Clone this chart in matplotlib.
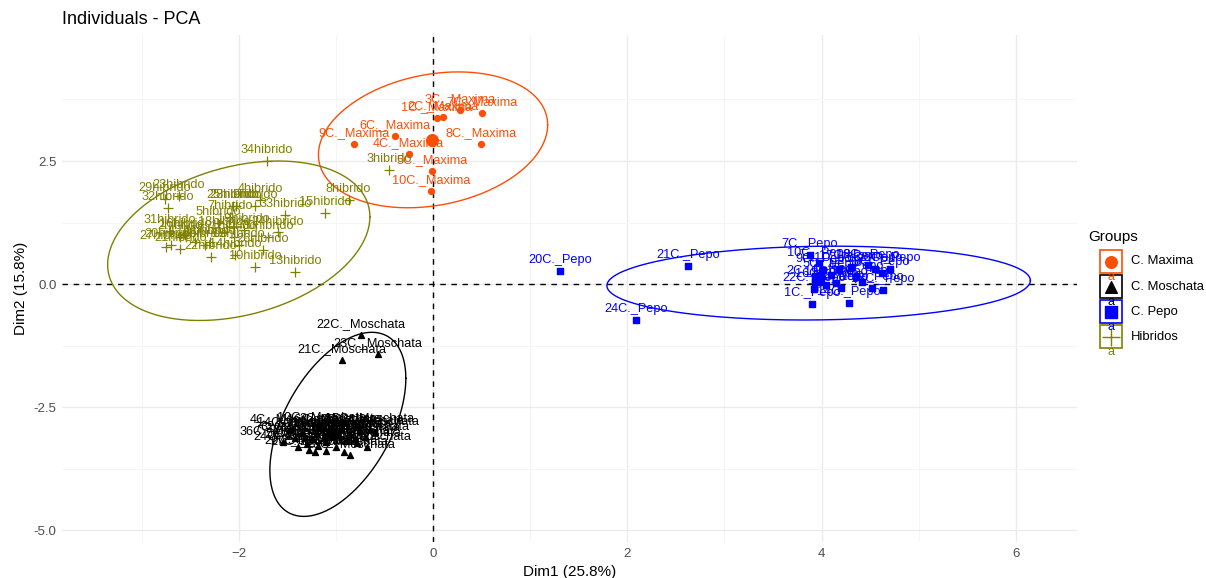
import matplotlib.pyplot as plt
import numpy as np

plt.rcParams['font.family'] = ['Liberation Sans', 'DejaVu Sans']

# ---- data (Dim1, Dim2 coordinates) ----
maxima_names = ["1C._Maxima", "2C._Maxima", "3C._Maxima", "4C._Maxima", "5C._Maxima",
                "6C._Maxima", "7C._Maxima", "8C._Maxima", "9C._Maxima", "10C._Maxima"]
maxima_x = [0.04, 0.10, 0.28, -0.25, -0.01, -0.39, 0.50, 0.49, -0.81, -0.02]
maxima_y = [3.37, 3.39, 3.54, 2.64, 2.30, 3.01, 3.48, 2.85, 2.85, 1.89]

pepo_names = [f"{i}C._Pepo" for i in range(1, 25)]
pepo_x = [3.90, 3.93, 4.20, 4.35, 4.10, 4.55, 3.88, 4.62, 4.02, 3.97, 4.18, 4.42,
          4.63, 4.28, 4.52, 4.05, 4.30, 4.48, 4.15, 1.31, 2.63, 3.92, 4.70, 2.09]
pepo_y = [-0.41, 0.05, -0.08, 0.15, 0.18, 0.30, 0.59, 0.22, 0.28, 0.42, 0.30, 0.05,
          -0.12, -0.39, -0.08, -0.02, 0.35, 0.38, 0.02, 0.26, 0.37, -0.10, 0.30, -0.73]

moschata_names = [f"{i}C._Moschata" for i in range(1, 37)]
moschata_x = [-1.20, -1.05, -0.95, -1.47, -1.30, -1.10, -1.42, -0.85, -1.00, -1.15,
              -0.75, -1.25, -0.90, -1.35, -0.65, -1.05, -0.80, -1.18, -0.98, -1.28,
              -0.94, -0.74, -0.57, -1.39, -1.10, -0.92, -1.22, -0.85, -0.70, -1.08,
              -0.60, -1.32, -0.78, -1.12, -0.68, -1.54]
moschata_y = [-3.05, -3.10, -2.95, -2.97, -3.25, -3.20, -3.12, -3.05, -3.30, -2.92,
              -2.98, -3.15, -3.18, -3.02, -2.95, -2.96, -3.12, -3.28, -3.05, -3.38,
              -1.54, -1.04, -1.42, -3.30, -3.40, -3.42, -3.42, -3.48, -3.10, -3.05,
              -3.00, -3.10, -3.22, -3.12, -3.30, -3.21]

hibrido_names = [f"{i}hibrido" for i in range(1, 35)]
hibrido_x = [-2.05, -2.60, -0.45, -1.78, -2.21, -2.35, -2.09, -0.87, -1.83, -1.83,
             -2.30, -2.00, -1.42, -2.04, -1.11, -2.55, -2.45, -2.15, -1.95, -2.70,
             -2.60, -2.29, -2.62, -1.60, -2.06, -1.75, -2.75, -2.03, -2.76, -1.70,
             -2.71, -2.73, -1.52, -1.71]
hibrido_y = [0.95, 0.95, 2.32, 1.71, 1.24, 0.80, 1.36, 1.71, 1.59, 0.35,
             0.85, 0.80, 0.24, 0.59, 1.44, 1.00, 0.85, 1.05, 1.10, 0.80,
             0.72, 0.55, 1.79, 1.05, 1.59, 0.70, 0.75, 1.59, 1.73, 0.95,
             1.08, 1.54, 1.40, 2.50]

# ellipse parameters: centre x, centre y, half-width x, half-height y, correlation
ell_maxima = (0.0, 2.93, 1.18, 1.38, 0.22)
ell_moschata = (-0.98, -2.85, 0.70, 1.87, 0.50)
ell_pepo = (3.97, 0.02, 2.18, 0.75, 0.07)
ell_hibrido = (-2.0, 0.88, 1.35, 1.62, 0.30)

groups = [
    ("C. Maxima", maxima_names, maxima_x, maxima_y, ell_maxima, "#FC4E07", "o"),
    ("C. Moschata", moschata_names, moschata_x, moschata_y, ell_moschata, "black", "^"),
    ("C. Pepo", pepo_names, pepo_x, pepo_y, ell_pepo, "#0000FF", "s"),
    ("Hibridos", hibrido_names, hibrido_x, hibrido_y, ell_hibrido, "#808000", "+"),
]

fig = plt.figure(figsize=(12.06, 5.78), dpi=100)
ax = fig.add_axes([62 / 1206, 1 - 542 / 578, (1077 - 62) / 1206, (542 - 35) / 578])

# grid like theme_minimal
for v in [-2, 0, 2, 4, 6]:
    ax.axvline(v, color="#EBEBEB", lw=1.0, zorder=0)
for v in [-3, -1, 1, 3, 5]:
    ax.axvline(v, color="#F4F4F4", lw=0.6, zorder=0)
for v in [-5, -2.5, 0, 2.5]:
    ax.axhline(v, color="#EBEBEB", lw=1.0, zorder=0)
for v in [-3.75, -1.25, 1.25, 3.75]:
    ax.axhline(v, color="#F4F4F4", lw=0.6, zorder=0)

ax.axhline(0, color="black", ls=(0, (4, 4)), lw=1.0, zorder=1)
ax.axvline(0, color="black", ls=(0, (4, 4)), lw=1.0, zorder=1)

t = np.linspace(0, 2 * np.pi, 300)
for name, labels, xs, ys, ell, col, mk in groups:
    cx, cy, sx, sy, rho = ell
    ex = cx + sx * np.cos(t)
    ey = cy + sy * (rho * np.cos(t) + np.sqrt(1 - rho ** 2) * np.sin(t))
    ax.plot(ex, ey, color=col, lw=1.0, zorder=2)
    if mk == "+":
        ax.scatter(xs, ys, marker="+", s=60, color=col, linewidths=0.9, zorder=3)
        ax.scatter([np.mean(xs)], [np.mean(ys)], marker="+", s=140, color=col,
                   linewidths=1.2, zorder=3)
    else:
        ax.scatter(xs, ys, marker=mk, s=18, color=col, zorder=3)
        ax.scatter([np.mean(xs)], [np.mean(ys)], marker=mk, s=70, color=col, zorder=3)
    for lab, x, y in zip(labels, xs, ys):
        ax.annotate(lab, (x, y), xytext=(0, 3.5), textcoords="offset points",
                    ha="center", va="bottom", fontsize=9.2, color=col, zorder=4)

ax.set_xlim(-3.82, 6.63)
ax.set_ylim(-5.24, 5.06)
ax.set_xticks([-2, 0, 2, 4, 6])
ax.set_yticks([-5.0, -2.5, 0.0, 2.5])
ax.set_yticklabels(["-5.0", "-2.5", "0.0", "2.5"])
ax.tick_params(length=0, labelsize=9.5, labelcolor="#4D4D4D", pad=4)
for s in ax.spines.values():
    s.set_visible(False)
ax.set_xlabel("Dim1 (25.8%)", fontsize=11, labelpad=4)
ax.set_ylabel("Dim2 (15.8%)", fontsize=11, labelpad=4)
fig.text(62 / 1206, 1 - 20 / 578, "Individuals - PCA", fontsize=13, va="center", ha="left")

# legend drawn by hand (boxed keys with the stray 'a' like the original)
lax = fig.add_axes([0, 0, 1, 1])
lax.set_xlim(0, 1206)
lax.set_ylim(578, 0)
lax.axis("off")
lax.text(1088, 237, "Groups", fontsize=11, va="center", ha="left")
for i, (name, labels, xs, ys, ell, col, mk) in enumerate(groups):
    y0 = 250 + i * 25
    lax.add_patch(plt.Rectangle((1100, y0), 22, 23, fill=False, ec=col, lw=1.2))
    lax.text(1111, y0 + 27, "a", color=col, fontsize=9, ha="center", va="center")
    if mk == "+":
        lax.scatter([1111], [y0 + 11.5], marker="+", s=160, color=col, linewidths=1.0)
    else:
        lax.scatter([1111], [y0 + 11.5], marker=mk, s=70, color=col)
    lax.text(1131, y0 + 11.5, name, fontsize=9.4, va="center", ha="left")

fig.savefig("out.png", dpi=100)
